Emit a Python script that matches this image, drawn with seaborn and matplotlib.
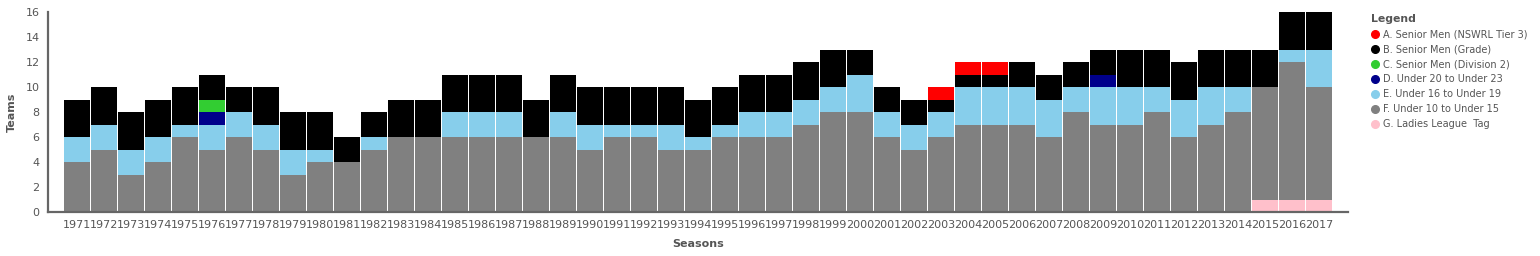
import numpy as np
import pandas as pd
import seaborn as sns
import matplotlib
matplotlib.use("Agg")
import matplotlib.pyplot as plt
from matplotlib.lines import Line2D

seasons = list(range(1971, 2018))

cat_a = [0]*32 + [1, 1, 1] + [0]*12            # 2003-2005
cat_b = [3, 3, 3, 3, 3, 2, 2, 3, 3, 3, 2, 2, 3, 3, 3, 3, 3, 3, 3, 3,
         3, 3, 3, 3, 3, 3, 3, 3, 3, 2, 2, 2, 1, 1, 1, 2, 2, 2, 2, 3,
         3, 3, 3, 3, 3, 3, 3]
cat_c = [0]*5 + [1] + [0]*41
cat_d = [0]*5 + [1] + [0]*32 + [1] + [0]*8
cat_e = [2, 2, 2, 2, 1, 2, 2, 2, 2, 1, 0, 1, 0, 0, 2, 2, 2, 0, 2, 2,
         1, 1, 2, 1, 1, 2, 2, 2, 2, 3, 2, 2, 2, 3, 3, 3, 3, 2, 3, 3,
         2, 3, 3, 2, 0, 1, 3]
cat_f = [4, 5, 3, 4, 6, 5, 6, 5, 3, 4, 4, 5, 6, 6, 6, 6, 6, 6, 6, 5,
         6, 6, 5, 5, 6, 6, 6, 7, 8, 8, 6, 5, 6, 7, 7, 7, 6, 8, 7, 7,
         8, 6, 7, 8, 9, 11, 9]
cat_g = [0]*44 + [1, 1, 1]

categories = ["A. Senior Men (NSWRL Tier 3)", "B. Senior Men (Grade)",
              "C. Senior Men (Division 2)", "D. Under 20 to Under 23",
              "E. Under 16 to Under 19", "F. Under 10 to Under 15",
              "G. Ladies League  Tag"]
colors = ["#ff0000", "#000000", "#32cd32", "#00008b", "#87ceeb", "#808080", "#ffc0cb"]
series = [cat_a, cat_b, cat_c, cat_d, cat_e, cat_f, cat_g]

rows = []
for cat, vals in zip(categories, series):
    for s, v in zip(seasons, vals):
        rows.append({"Season": s, "Category": cat, "Teams": v})
df = pd.DataFrame(rows)

sns.set_style("white")
plt.rcParams['font.family'] = ['DejaVu Sans']

fig = plt.figure(figsize=(15.4, 2.56), dpi=100)
ax = fig.add_axes([48/1540, 44/256, 1300/1540, 200/256])

sns.histplot(data=df, x="Season", weights="Teams", hue="Category",
             hue_order=categories, palette=dict(zip(categories, colors)),
             multiple="stack", discrete=True, shrink=0.965, linewidth=0,
             alpha=1, legend=False, ax=ax)

txt = "#555555"
ax.set_xlim(1971 - 1.09, 2017 + 1.06)
ax.set_ylim(0, 16)
ax.set_xticks(seasons)
ax.set_xticklabels([str(s) for s in seasons], fontsize=8, color=txt)
ax.set_yticks(range(0, 17, 2))
ax.set_yticklabels([str(v) for v in range(0, 17, 2)], fontsize=8, color=txt)
ax.tick_params(axis="both", direction="out", length=4, width=1.2, color="#777777", pad=2)
for sp in ["top", "right"]:
    ax.spines[sp].set_visible(False)
for sp in ["left", "bottom"]:
    ax.spines[sp].set_color("#666666")
    ax.spines[sp].set_linewidth(1.6)
ax.set_xlabel("Seasons", fontsize=8, fontweight="bold", color=txt, labelpad=6)
ax.set_ylabel("Teams", fontsize=8, fontweight="bold", color=txt, labelpad=6)

handles = [Line2D([0], [0], marker="o", linestyle="", markerfacecolor=c,
                  markeredgecolor=c, markersize=5.5) for c in colors]
leg = ax.legend(handles, categories, title="Legend", loc="upper left",
                bbox_to_anchor=(1371/1540, 242/256), bbox_transform=fig.transFigure,
                frameon=False, fontsize=7, labelcolor=txt, handletextpad=0.35,
                handlelength=0.9, labelspacing=0.52, borderpad=0, borderaxespad=0)
leg.get_title().set_fontsize(7.8)
leg.get_title().set_fontweight("bold")
leg.get_title().set_color(txt)
leg._legend_box.align = "left"

fig.savefig("out.png", dpi=100)
